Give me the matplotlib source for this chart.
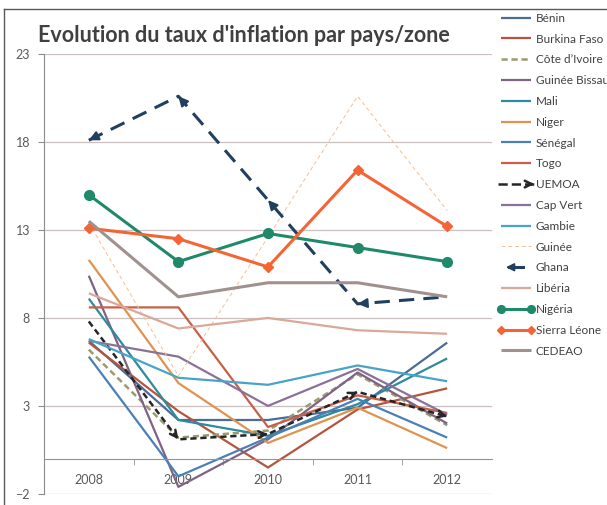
import matplotlib
matplotlib.use("Agg")
import matplotlib.pyplot as plt
from matplotlib.lines import Line2D
from matplotlib.patches import FancyArrowPatch
from matplotlib.legend_handler import HandlerBase

plt.rcParams["font.family"] = ["Lato", "DejaVu Sans"]

# données
years = ["2008", "2009", "2010", "2011", "2012"]
benin = [6.7, 2.2, 2.2, 2.9, 6.6]
burkina = [6.6, 2.7, -0.5, 2.8, 4.0]
civ = [6.2, 1.2, 1.6, 4.8, 1.9]
gbissau = [10.4, -1.6, 1.1, 4.9, 2.0]
mali = [9.1, 2.2, 1.3, 3.1, 5.7]
niger = [11.3, 4.3, 0.9, 2.9, 0.6]
senegal = [5.8, -1.0, 1.2, 3.4, 1.2]
togo = [8.6, 8.6, 1.8, 3.6, 2.6]
uemoa = [7.8, 1.1, 1.4, 3.8, 2.4]
capvert = [6.7, 5.8, 3.0, 5.1, 2.5]
gambie = [6.8, 4.6, 4.2, 5.3, 4.4]
guinee = [13.4, 4.7, 12.6, 20.6, 14.1]
ghana = [18.1, 20.6, 14.7, 8.8, 9.2]
liberia = [9.4, 7.4, 8.0, 7.3, 7.1]
nigeria = [15.0, 11.2, 12.8, 12.0, 11.2]
sierra = [13.1, 12.5, 10.9, 16.4, 13.2]
cedeao = [13.5, 9.2, 10.0, 10.0, 9.2]

x = list(range(len(years)))

fig = plt.figure(figsize=(6.07, 5.05), dpi=100)
ax = fig.add_axes([0.0725, 0.022, 0.738, 0.871])

# (label, valeurs, couleur, épaisseur, style, marqueur)
series = [
    ("Bénin", benin, "#4A6C96", 1.6, "-", None),
    ("Burkina Faso", burkina, "#B4553F", 1.6, "-", None),
    ("Côte d’Ivoire", civ, "#9C9B6E", 1.8, (0, (2.5, 1.5)), None),
    ("Guinée Bissau", gbissau, "#7E6384", 1.6, "-", None),
    ("Mali", mali, "#2E8A9E", 1.6, "-", None),
    ("Niger", niger, "#E0934F", 1.6, "-", None),
    ("Sénégal", senegal, "#4A80B8", 1.6, "-", None),
    ("Togo", togo, "#C85F48", 1.6, "-", None),
    ("UEMOA", uemoa, "#262626", 1.8, (0, (2.5, 1.5)), None),
    ("Cap Vert", capvert, "#8A7199", 1.6, "-", None),
    ("Gambie", gambie, "#48A3C9", 1.6, "-", None),
    ("Guinée", guinee, "#F6BE96", 0.7, (0, (4, 3)), None),
    ("Ghana", ghana, "#213F5E", 2.2, (0, (5, 3)), None),
    ("Libéria", liberia, "#D9A898", 1.6, "-", None),
    ("Nigéria", nigeria, "#1F8A6A", 2.2, "-", "o"),
    ("Sierra Léone", sierra, "#F46535", 2.2, "-", "D"),
    ("CEDEAO", cedeao, "#A0918F", 2.2, "-", None),
]

handles = []
for label, vals, col, lw, ls, mk in series:
    ms = 7 if mk == "o" else 5
    line, = ax.plot(x, vals, color=col, lw=lw, ls=ls, marker=mk, ms=ms,
                    label=label, solid_capstyle="butt", dash_capstyle="butt")
    handles.append(line)


def seg_arrows(xs, ys, at_end, style, col, lw, ms):
    for i in range(len(xs) - 1):
        x0, y0, x1, y1 = xs[i], ys[i], xs[i + 1], ys[i + 1]
        if at_end:
            tip = (x1, y1)
            base = (x1 - 0.03 * (x1 - x0), y1 - 0.03 * (y1 - y0))
        else:
            tip = (x0, y0)
            base = (x0 + 0.03 * (x1 - x0), y0 + 0.03 * (y1 - y0))
        ax.annotate("", xy=tip, xytext=base,
                    arrowprops=dict(arrowstyle=style, color=col, lw=lw,
                                    mutation_scale=ms, shrinkA=0, shrinkB=0))


seg_arrows(x, uemoa, True, "->", "#262626", 1.8, 12)
seg_arrows(x, ghana, False, "-|>", "#213F5E", 1.5, 14)


class ArrowHandler(HandlerBase):
    def __init__(self, reverse):
        super().__init__()
        self.reverse = reverse

    def create_artists(self, legend, orig, xd, yd, w, h, fs, trans):
        y = h / 2 - yd
        x0, x1 = -xd, w - xd
        col = orig.get_color()
        if self.reverse:
            shaft = Line2D([x0 + 8, x1 - 8], [y, y], color=col, lw=orig.get_linewidth(), transform=trans)
            head = FancyArrowPatch((x0 + 11, y), (x0 + 6, y), arrowstyle="-|>", mutation_scale=12,
                                   color=col, lw=1.2, shrinkA=0, shrinkB=0, transform=trans)
        else:
            shaft = Line2D([x0, x1], [y, y], color=col, lw=orig.get_linewidth(),
                           ls=orig.get_linestyle(), transform=trans)
            head = FancyArrowPatch((x1 - 3, y), (x1, y), arrowstyle="->", mutation_scale=12,
                                   color=col, lw=1.8, shrinkA=0, shrinkB=0, transform=trans)
        return [shaft, head]


hmap = {handles[8]: ArrowHandler(False), handles[12]: ArrowHandler(True)}
fig.legend(handles=handles, loc="upper left", bbox_to_anchor=(0.812, 0.984),
           frameon=False, fontsize=8.5, handlelength=3.1, handletextpad=0.15,
           labelspacing=0.83, numpoints=2, borderaxespad=0, handler_map=hmap,
           labelcolor="#404040", markerscale=0.8)

ax.set_xlim(-0.5, len(years) - 0.5)
ax.set_ylim(-2, 23)
ax.set_yticks([-2, 3, 8, 13, 18, 23])
ax.yaxis.grid(True, color="#CBBFBF", lw=0.9)
ax.set_axisbelow(True)

ax.spines["top"].set_visible(False)
ax.spines["right"].set_visible(False)
ax.spines["left"].set_color("#8C8C8C")
ax.spines["bottom"].set_position(("data", 0))
ax.spines["bottom"].set_color("#9C9090")

ax.set_xticks(x)
ax.set_xticklabels(years)
ax.set_xticks([i + 0.5 for i in x[:-1]], minor=True)
ax.tick_params(axis="x", which="major", length=0, pad=11, labelsize=9, labelcolor="#595959")
ax.tick_params(axis="x", which="minor", length=4, color="#9C9090", direction="out")
ax.tick_params(axis="y", length=4, color="#8C8C8C", pad=6, labelsize=9, labelcolor="#595959")

fig.text(0.063, 0.929, "Evolution du taux d'inflation par pays/zone", fontsize=15.5,
         fontweight="bold", color="#404040", va="center", ha="left")

# cadre
fig.add_artist(Line2D([0.006, 0.006], [0, 0.983], color="#595959", lw=1, transform=fig.transFigure))
fig.add_artist(Line2D([0.006, 1], [0.983, 0.983], color="#595959", lw=1, transform=fig.transFigure))

fig.savefig("out.png", dpi=100)
